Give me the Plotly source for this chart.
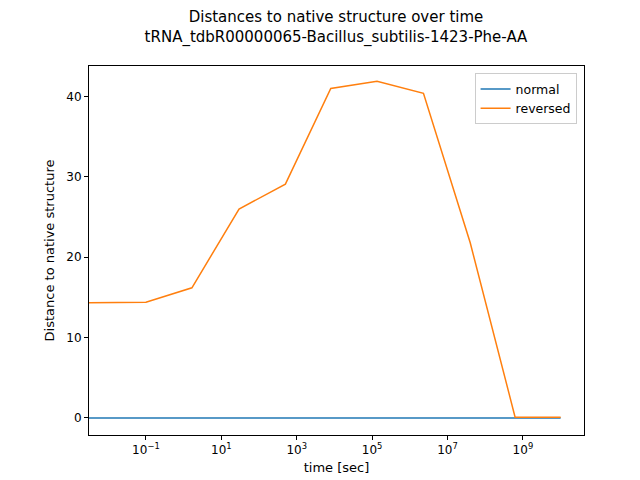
import plotly.graph_objects as go

# time points (sec); first point stands in for t=0 and is clipped at the left edge
times = [1e-4, 1e-1, 1.66, 29.5, 5.0e2, 8.0e3, 1.35e5, 2.3e6, 4.0e7, 6.2e8, 1.0e10]
normal = [0, 0, 0, 0, 0, 0, 0, 0, 0, 0, 0]
reversed_ = [14.3, 14.4, 16.2, 26.0, 29.1, 41.0, 41.9, 40.4, 21.8, 0.1, 0.1]

tick_vals = [1e-1, 1e1, 1e3, 1e5, 1e7, 1e9]
tick_text = ['10<sup>\u22121</sup>', '10<sup>1</sup>', '10<sup>3</sup>',
             '10<sup>5</sup>', '10<sup>7</sup>', '10<sup>9</sup>']

fig = go.Figure()
fig.add_trace(go.Scatter(x=times, y=normal, mode='lines', name='normal',
                         line=dict(color='#1f77b4', width=1.5)))
fig.add_trace(go.Scatter(x=times, y=reversed_, mode='lines', name='reversed',
                         line=dict(color='#ff7f0e', width=1.5)))

axis_style = dict(showline=True, linecolor='black', linewidth=1, mirror=True,
                  ticks='outside', ticklen=4, tickcolor='black', showgrid=False,
                  zeroline=False, automargin=False, tickfont=dict(size=12, color='black'))

fig.update_xaxes(type='log', range=[-2.51, 10.62], tickvals=tick_vals, ticktext=tick_text,
                 title=dict(text='time [sec]', font=dict(size=13, color='black'), standoff=6),
                 **axis_style)
fig.update_yaxes(range=[-2.12, 43.8], tickvals=[0, 10, 20, 30, 40],
                 title=dict(text='Distance to native structure', font=dict(size=13, color='black'), standoff=8),
                 **axis_style)

fig.update_layout(
    width=640, height=480,
    font=dict(family='DejaVu Sans', color='black'),
    plot_bgcolor='white', paper_bgcolor='white',
    margin=dict(l=81, r=64, t=58, b=53),
    title=dict(text='Distances to native structure over time<br>tRNA_tdbR00000065-Bacillus_subtilis-1423-Phe-AA',
               x=0.5125, xanchor='center', y=0.97, yanchor='top', font=dict(size=15, color='black')),
    legend=dict(x=0.985, y=0.98, xanchor='right', yanchor='top', bgcolor='white',
                bordercolor='#cccccc', borderwidth=1, font=dict(size=12.5)),
)

fig.write_html("out.html")
